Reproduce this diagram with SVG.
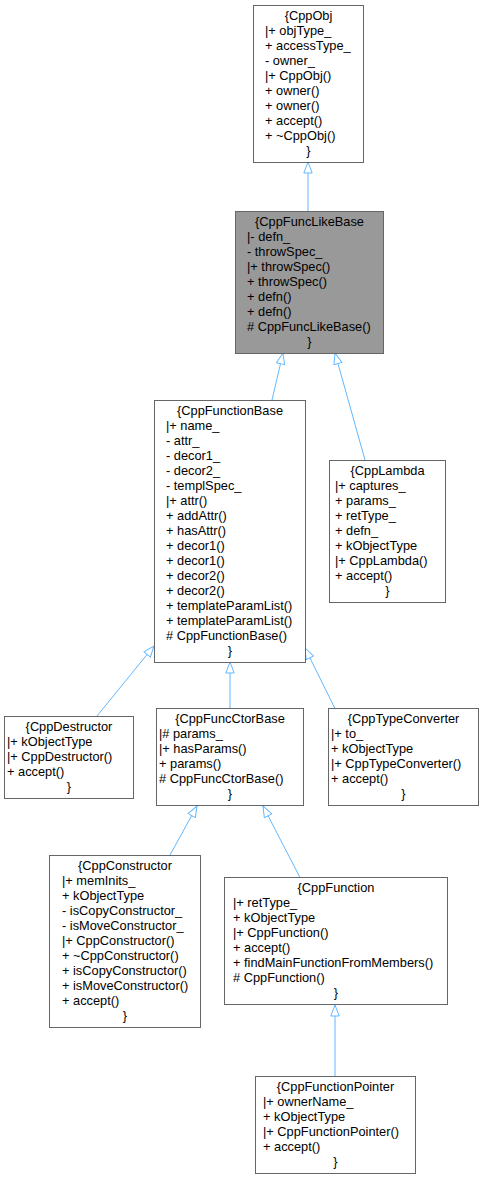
<svg xmlns="http://www.w3.org/2000/svg" width="484" height="1180" viewBox="0 0 484 1180">
<defs>
<marker id="tri" viewBox="0 0 12 10" refX="11.5" refY="5" markerWidth="12" markerHeight="10" markerUnits="userSpaceOnUse" orient="auto">
<path d="M0.5,0.8 L11.5,5 L0.5,9.2 Z" fill="#ffffff" stroke="#63b8ff" stroke-width="1"/>
</marker>
</defs>
<style>
rect{fill:#ffffff;stroke:#666666;stroke-width:1}
#CppFuncLikeBase rect{fill:#999999}
text{font-family:"Liberation Sans",Arial,Helvetica,sans-serif;font-size:12.8px;fill:#000000}
.c{text-anchor:middle}
.e{fill:none;stroke:#63b8ff;stroke-width:1;marker-end:url(#tri)}
</style>
<rect x="0" y="0" width="484" height="1180" style="fill:#ffffff;stroke:none"/>
<g id="connectors">
<path class="e" d="M308,211 L308,162"/>
<path class="e" d="M272,400 L283,353"/>
<path class="e" d="M365,460 L335,353"/>
<path class="e" d="M97,716 L154,646"/>
<path class="e" d="M230,708.5 L230,662"/>
<path class="e" d="M335,708.5 L305,648"/>
<path class="e" d="M170,855 L197,806"/>
<path class="e" d="M300,877.5 L263,806"/>
<path class="e" d="M335,1076 L335,1005"/>
</g>
<g id="CppObj">
<rect x="253.5" y="5.5" width="110" height="157"/>
<text class="c" x="308.5" y="20">{CppObj</text>
<text x="265" y="35">|+ objType_</text>
<text x="265" y="50">+ accessType_</text>
<text x="265" y="65">- owner_</text>
<text x="265" y="80">|+ CppObj()</text>
<text x="265" y="95">+ owner()</text>
<text x="265" y="110">+ owner()</text>
<text x="265" y="125">+ accept()</text>
<text x="265" y="140">+ ~CppObj()</text>
<text class="c" x="308.5" y="155">}</text>
</g>
<g id="CppFuncLikeBase">
<rect x="235.5" y="211.5" width="148" height="142"/>
<text class="c" x="309.5" y="226">{CppFuncLikeBase</text>
<text x="247" y="241">|- defn_</text>
<text x="247" y="256">- throwSpec_</text>
<text x="247" y="271">|+ throwSpec()</text>
<text x="247" y="286">+ throwSpec()</text>
<text x="247" y="301">+ defn()</text>
<text x="247" y="316">+ defn()</text>
<text x="247" y="331"># CppFuncLikeBase()</text>
<text class="c" x="309.5" y="346">}</text>
</g>
<g id="CppFunctionBase">
<rect x="154.5" y="400.5" width="151" height="262"/>
<text class="c" x="230" y="415">{CppFunctionBase</text>
<text x="166" y="430">|+ name_</text>
<text x="166" y="445">- attr_</text>
<text x="166" y="460">- decor1_</text>
<text x="166" y="475">- decor2_</text>
<text x="166" y="490">- templSpec_</text>
<text x="166" y="505">|+ attr()</text>
<text x="166" y="520">+ addAttr()</text>
<text x="166" y="535">+ hasAttr()</text>
<text x="166" y="550">+ decor1()</text>
<text x="166" y="565">+ decor1()</text>
<text x="166" y="580">+ decor2()</text>
<text x="166" y="595">+ decor2()</text>
<text x="166" y="610">+ templateParamList()</text>
<text x="166" y="625">+ templateParamList()</text>
<text x="166" y="640"># CppFunctionBase()</text>
<text class="c" x="230" y="655">}</text>
</g>
<g id="CppLambda">
<rect x="329.5" y="460.5" width="116" height="142"/>
<text class="c" x="387.5" y="475">{CppLambda</text>
<text x="335" y="490">|+ captures_</text>
<text x="335" y="505">+ params_</text>
<text x="335" y="520">+ retType_</text>
<text x="335" y="535">+ defn_</text>
<text x="335" y="550">+ kObjectType</text>
<text x="335" y="565">|+ CppLambda()</text>
<text x="335" y="580">+ accept()</text>
<text class="c" x="387.5" y="595">}</text>
</g>
<g id="CppDestructor">
<rect x="4.5" y="716.5" width="129" height="82"/>
<text class="c" x="69" y="731">{CppDestructor</text>
<text x="7" y="746">|+ kObjectType</text>
<text x="7" y="761">|+ CppDestructor()</text>
<text x="7" y="776">+ accept()</text>
<text class="c" x="69" y="791">}</text>
</g>
<g id="CppFuncCtorBase">
<rect x="156.5" y="708.5" width="147" height="97"/>
<text class="c" x="230" y="723">{CppFuncCtorBase</text>
<text x="159" y="738">|# params_</text>
<text x="159" y="753">|+ hasParams()</text>
<text x="159" y="768">+ params()</text>
<text x="159" y="783"># CppFuncCtorBase()</text>
<text class="c" x="230" y="798">}</text>
</g>
<g id="CppTypeConverter">
<rect x="328.5" y="708.5" width="150" height="97"/>
<text class="c" x="403.5" y="723">{CppTypeConverter</text>
<text x="331" y="738">|+ to_</text>
<text x="331" y="753">+ kObjectType</text>
<text x="331" y="768">|+ CppTypeConverter()</text>
<text x="331" y="783">+ accept()</text>
<text class="c" x="403.5" y="798">}</text>
</g>
<g id="CppConstructor">
<rect x="49.5" y="855.5" width="151" height="172"/>
<text class="c" x="125" y="870">{CppConstructor</text>
<text x="62" y="885">|+ memInits_</text>
<text x="62" y="900">+ kObjectType</text>
<text x="62" y="915">- isCopyConstructor_</text>
<text x="62" y="930">- isMoveConstructor_</text>
<text x="62" y="945">|+ CppConstructor()</text>
<text x="62" y="960">+ ~CppConstructor()</text>
<text x="62" y="975">+ isCopyConstructor()</text>
<text x="62" y="990">+ isMoveConstructor()</text>
<text x="62" y="1005">+ accept()</text>
<text class="c" x="125" y="1020">}</text>
</g>
<g id="CppFunction">
<rect x="224.5" y="877.5" width="223" height="127"/>
<text class="c" x="336" y="892">{CppFunction</text>
<text x="233" y="907">|+ retType_</text>
<text x="233" y="922">+ kObjectType</text>
<text x="233" y="937">|+ CppFunction()</text>
<text x="233" y="952">+ accept()</text>
<text x="233" y="967">+ findMainFunctionFromMembers()</text>
<text x="233" y="982"># CppFunction()</text>
<text class="c" x="336" y="997">}</text>
</g>
<g id="CppFunctionPointer">
<rect x="255.5" y="1076.5" width="160" height="97"/>
<text class="c" x="335.5" y="1091">{CppFunctionPointer</text>
<text x="263" y="1106">|+ ownerName_</text>
<text x="263" y="1121">+ kObjectType</text>
<text x="263" y="1136">|+ CppFunctionPointer()</text>
<text x="263" y="1151">+ accept()</text>
<text class="c" x="335.5" y="1166">}</text>
</g>
</svg>
